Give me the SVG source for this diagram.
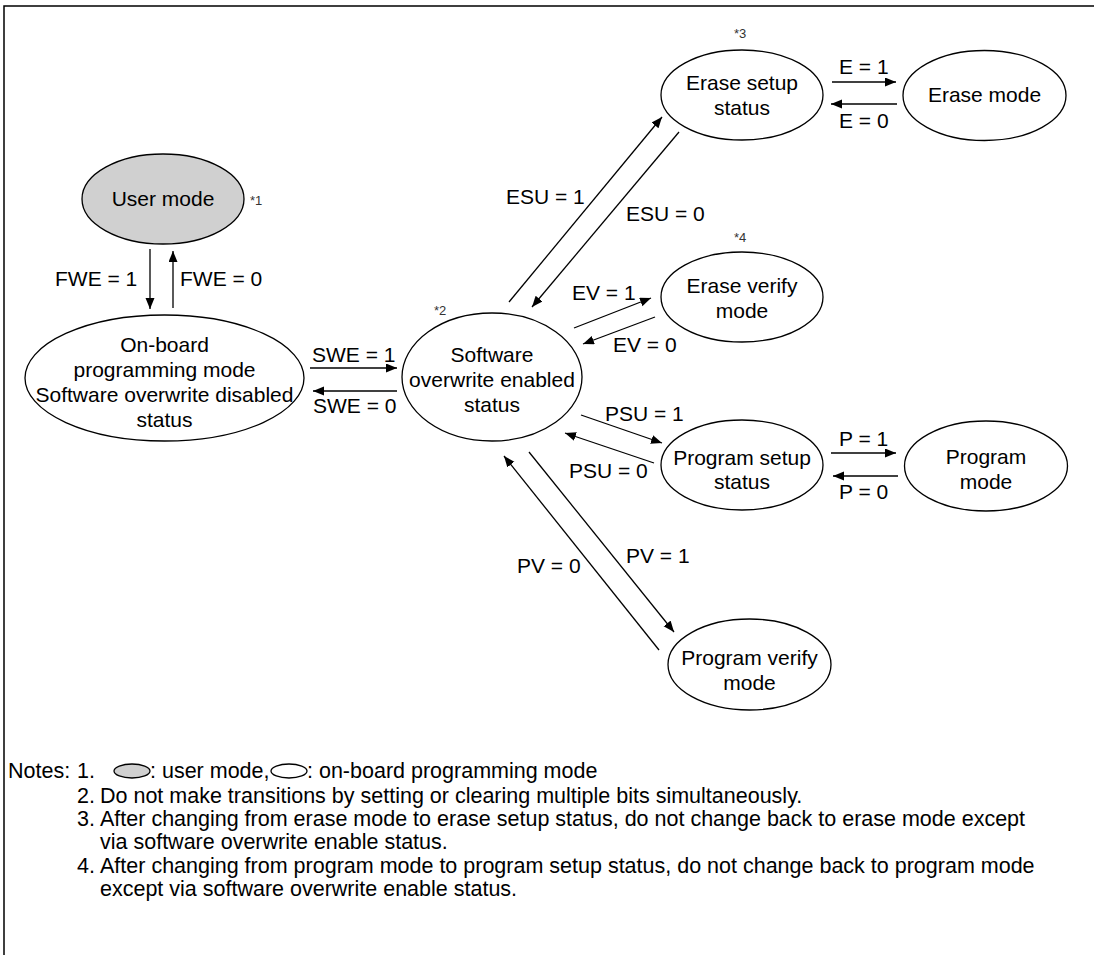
<svg xmlns="http://www.w3.org/2000/svg" width="1094" height="955" viewBox="0 0 1094 955">
<defs>
<marker id="ah" markerUnits="userSpaceOnUse" markerWidth="12" markerHeight="10" refX="11" refY="4.5" orient="auto">
<path d="M0,0 L11,4.5 L0,9 z" fill="#000"/>
</marker>
<style>
.n{fill:#fff;stroke:#000;stroke-width:1.3}
.g{fill:#d0d0d0;stroke:#000;stroke-width:1.3}
.t{font-family:"Liberation Sans",Arial,sans-serif;font-size:21px;fill:#000}
.c{text-anchor:middle}
.s{font-family:"Liberation Sans",Arial,sans-serif;font-size:13px;fill:#333}
.l{stroke:#000;stroke-width:1.3;fill:none;marker-end:url(#ah)}
.nt{font-family:"Liberation Sans",Arial,sans-serif;font-size:21.5px;fill:#000}
</style>
</defs>
<rect width="1094" height="955" fill="#fff"/>
<path d="M4,955 V6 H1094" fill="none" stroke="#000" stroke-width="1.5"/>

<g id="user-mode">
<ellipse class="g" cx="163" cy="199" rx="81" ry="45"/>
<text class="t c" x="163" y="206">User mode</text>
<text class="s" x="250" y="205">*1</text>
</g>
<g id="onboard">
<ellipse class="n" cx="164.5" cy="378" rx="139.5" ry="63"/>
<text class="t c" x="164.5" y="352">On-board</text>
<text class="t c" x="164.5" y="377">programming mode</text>
<text class="t c" x="164.5" y="402">Software overwrite disabled</text>
<text class="t c" x="164.5" y="427">status</text>
</g>
<g id="sw-enabled">
<ellipse class="n" cx="492" cy="377" rx="90" ry="64"/>
<text class="t c" x="492" y="362">Software</text>
<text class="t c" x="492" y="387">overwrite enabled</text>
<text class="t c" x="492" y="412">status</text>
<text class="s" x="434" y="315">*2</text>
</g>
<g id="erase-setup">
<ellipse class="n" cx="742" cy="95" rx="81" ry="45"/>
<text class="t c" x="742" y="90">Erase setup</text>
<text class="t c" x="742" y="115">status</text>
<text class="s" x="734" y="38">*3</text>
</g>
<g id="erase-mode">
<ellipse class="n" cx="984.5" cy="95.5" rx="81.5" ry="45"/>
<text class="t c" x="984.5" y="102">Erase mode</text>
</g>
<g id="erase-verify">
<ellipse class="n" cx="742" cy="297" rx="81" ry="45"/>
<text class="t c" x="742" y="293">Erase verify</text>
<text class="t c" x="742" y="318">mode</text>
<text class="s" x="734" y="242">*4</text>
</g>
<g id="program-setup">
<ellipse class="n" cx="742" cy="465" rx="81" ry="45"/>
<text class="t c" x="742" y="465">Program setup</text>
<text class="t c" x="742" y="489">status</text>
</g>
<g id="program-mode">
<ellipse class="n" cx="986" cy="466" rx="81.5" ry="45"/>
<text class="t c" x="986" y="464">Program</text>
<text class="t c" x="986" y="489">mode</text>
</g>
<g id="program-verify">
<ellipse class="n" cx="749.5" cy="664.5" rx="81.5" ry="45.5"/>
<text class="t c" x="749.5" y="665">Program verify</text>
<text class="t c" x="749.5" y="690">mode</text>
</g>

<g id="connectors">
<line class="l" x1="150" y1="249" x2="150" y2="309"/>
<line class="l" x1="173" y1="308" x2="173" y2="251"/>
<line class="l" x1="310" y1="368" x2="397" y2="368"/>
<line class="l" x1="397" y1="391" x2="313" y2="391"/>
<line class="l" x1="509" y1="302" x2="662" y2="117"/>
<line class="l" x1="679" y1="132" x2="532" y2="307"/>
<line class="l" x1="574" y1="328" x2="651" y2="298"/>
<line class="l" x1="655" y1="317" x2="583" y2="344"/>
<line class="l" x1="581" y1="415" x2="662" y2="443"/>
<line class="l" x1="654" y1="463" x2="565" y2="433"/>
<line class="l" x1="659" y1="650" x2="504" y2="456"/>
<line class="l" x1="529" y1="452" x2="674" y2="632"/>
<line class="l" x1="832" y1="82" x2="896" y2="82"/>
<line class="l" x1="897" y1="104" x2="831" y2="104"/>
<line class="l" x1="831" y1="453" x2="896" y2="453"/>
<line class="l" x1="898" y1="476" x2="833" y2="476"/>
</g>
<g id="labels">
<text class="t" x="55" y="286">FWE = 1</text>
<text class="t" x="180" y="286">FWE = 0</text>
<text class="t" x="312" y="362">SWE = 1</text>
<text class="t" x="313" y="413">SWE = 0</text>
<text class="t" x="506" y="204">ESU = 1</text>
<text class="t" x="626" y="221">ESU = 0</text>
<text class="t" x="572" y="300">EV = 1</text>
<text class="t" x="613" y="352">EV = 0</text>
<text class="t" x="605" y="421">PSU = 1</text>
<text class="t" x="569" y="478">PSU = 0</text>
<text class="t" x="517" y="573">PV = 0</text>
<text class="t" x="626" y="563">PV = 1</text>
<text class="t" x="839" y="74">E = 1</text>
<text class="t" x="839" y="128">E = 0</text>
<text class="t" x="839" y="446">P = 1</text>
<text class="t" x="839" y="499">P = 0</text>
</g>

<g id="notes">
<text class="nt" x="8" y="778">Notes:</text>
<text class="nt" x="77" y="778">1.</text>
<ellipse class="g" cx="132" cy="771" rx="18" ry="7"/>
<text class="nt" x="150" y="778">: user mode,</text>
<ellipse class="n" cx="289" cy="771" rx="18" ry="7"/>
<text class="nt" x="307" y="778">: on-board programming mode</text>
<text class="nt" x="77" y="803">2.</text>
<text class="nt" x="100" y="803">Do not make transitions by setting or clearing multiple bits simultaneously.</text>
<text class="nt" x="77" y="826">3.</text>
<text class="nt" x="100" y="826">After changing from erase mode to erase setup status, do not change back to erase mode except</text>
<text class="nt" x="100" y="849">via software overwrite enable status.</text>
<text class="nt" x="77" y="873">4.</text>
<text class="nt" x="100" y="873">After changing from program mode to program setup status, do not change back to program mode</text>
<text class="nt" x="100" y="896">except via software overwrite enable status.</text>
</g>
</svg>
